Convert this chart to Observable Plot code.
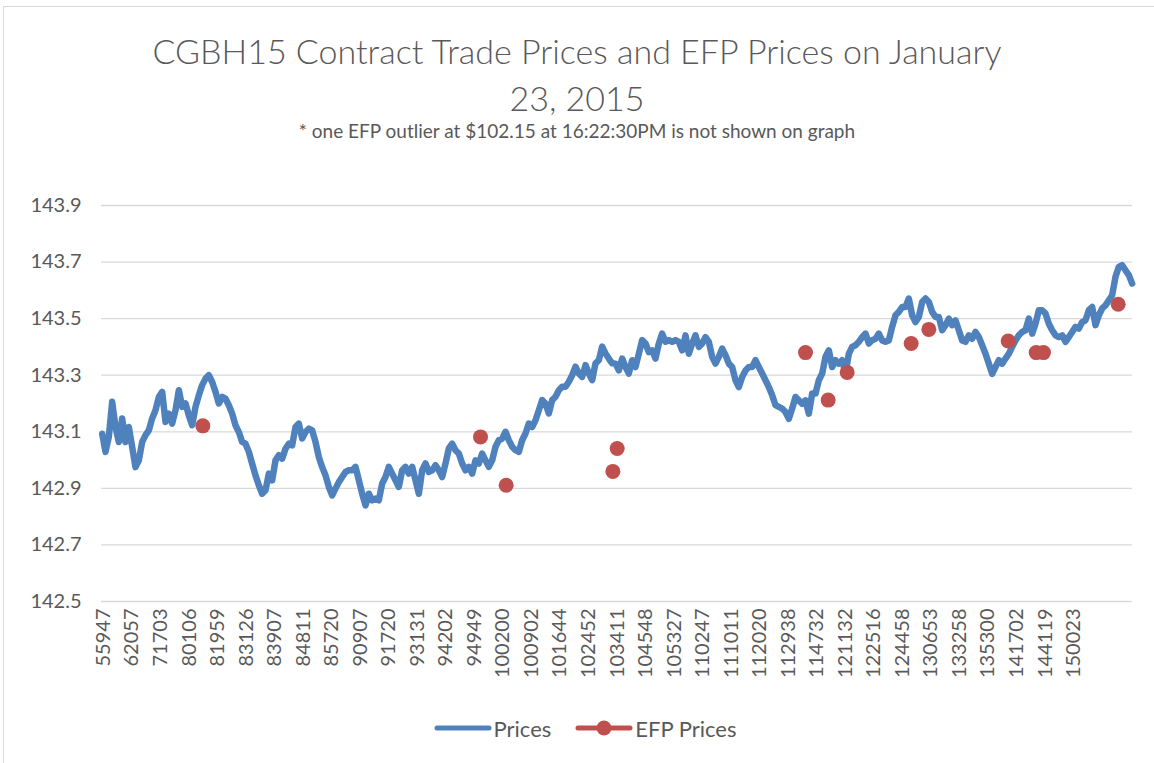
<!DOCTYPE html>
<html>
<head>
<meta charset="utf-8">
<script src="https://cdn.jsdelivr.net/npm/d3@7"></script>
<script src="https://cdn.jsdelivr.net/npm/@observablehq/plot@0.6"></script>
<style>
  html, body { margin: 0; padding: 0; background: #fff; }
  body { width: 1154px; height: 763px; overflow: hidden; position: relative; font-family: Lato, "Open Sans", sans-serif; color: #595959; }
  #frame { position: absolute; left: 3px; top: 6px; width: 1300px; height: 900px; border: 1px solid #d9d9d9; pointer-events: none; }
  #title { position: absolute; left: 0; width: 1154px; top: 27px; text-align: center; font-size: 34px; font-weight: 300; line-height: 47px; }
  #subtitle { position: absolute; left: 0; width: 1154px; top: 121px; text-align: center; font-size: 19px; line-height: 20px; }
  #chart { position: absolute; left: 0; top: 165px; }
  #legend { position: absolute; left: 8px; width: 1154px; top: 710px; height: 36px; display: flex; justify-content: center; align-items: center; font-size: 22px; }
  .item { display: flex; align-items: center; margin: 0 12px; }
  .item svg { margin-right: 2px; }
</style>
</head>
<body>
<div id="frame"></div>
<div id="title">CGBH15 Contract Trade Prices and EFP Prices on January<br>23, 2015</div>
<div id="subtitle">* one EFP outlier at $102.15 at 16:22:30PM is not shown on graph</div>
<div id="chart"></div>
<div id="legend"></div>
<script>
// Trade prices (sequential trades through the day)
const prices = [
  143.093,143.029,143.082,143.206,143.117,143.064,143.147,143.064,143.117,143.046,
  142.975,142.999,143.064,143.088,143.105,143.147,143.176,143.223,143.241,143.135,
  143.164,143.129,143.176,143.247,143.188,143.200,143.158,143.123,143.188,143.229,
  143.265,143.288,143.300,143.276,143.241,143.200,143.223,143.217,143.194,143.164,
  143.123,143.099,143.064,143.058,143.029,142.987,142.946,142.911,142.881,142.893,
  142.952,142.928,142.999,143.017,143.005,143.040,143.058,143.052,143.117,143.129,
  143.076,143.099,143.111,143.105,143.064,143.011,142.975,142.946,142.905,142.875,
  142.899,142.922,142.940,142.958,142.964,142.964,
  142.976,142.929,142.881,142.840,142.881,142.858,142.864,142.858,142.917,142.940,
  142.976,142.952,142.929,142.905,142.964,142.976,142.952,142.976,142.929,142.881,
  142.964,142.988,142.958,142.964,142.982,142.964,142.940,142.988,143.041,143.058,
  143.035,143.023,142.988,142.964,142.976,142.952,142.999,142.988,143.023,142.999,
  142.976,142.999,143.047,143.070,143.076,143.100,143.070,143.047,143.035,143.029,
  143.070,143.094,143.129,143.117,143.141,143.176,143.212,143.200,143.165,143.212,
  143.224,143.247,143.259,143.259,143.277,143.300,143.330,143.306,143.294,143.336,
  143.306,143.283,143.342,143.353,143.401,143.377,143.359,143.342,
  143.341,143.317,143.359,143.329,143.306,143.353,143.329,143.376,143.424,143.412,
  143.382,143.388,143.359,143.412,143.447,143.418,143.424,143.418,143.424,143.418,
  143.388,143.441,143.376,143.412,143.441,143.400,143.412,143.435,143.418,143.365,
  143.341,143.365,143.394,143.371,143.341,143.329,143.282,143.258,143.294,143.317,
  143.329,143.329,143.353,143.329,143.306,143.282,143.258,143.229,143.194,143.188,
  143.182,143.170,143.146,143.182,143.223,143.211,143.199,143.211,143.164,143.235,
  143.235,143.282,143.306,143.365,143.388,143.329,143.353,143.341,143.353,143.306,
  143.376,143.400,143.406,143.418,143.435,143.447,143.412,143.424,
  143.429,143.447,143.423,143.418,143.423,143.471,143.512,143.524,143.541,143.541,
  143.571,143.512,143.488,143.506,143.559,143.571,143.559,143.524,143.506,143.506,
  143.459,143.477,143.500,143.477,143.494,143.459,143.423,143.418,143.441,143.429,
  143.453,143.435,143.406,143.376,143.341,143.305,143.329,143.353,143.341,143.359,
  143.376,143.400,143.423,143.441,143.453,143.459,143.500,143.447,143.482,143.530,
  143.530,143.518,143.482,143.459,143.441,143.435,143.441,143.418,143.435,143.453,
  143.471,143.465,143.488,143.494,143.530,143.541,143.477,143.512,143.536,143.547,
  143.565,143.583,143.648,143.683,143.689,143.671,143.654,143.624
];

// EFP trades: trade sequence position and price
const efpTrade = [30.2, 113.5, 121.2, 153.2, 154.5, 211.0, 217.8, 223.5, 242.7, 248.0, 271.8, 280.2, 282.4, 304.8];
const efpPrice = [143.121, 143.082, 142.911, 142.960, 143.041, 143.380, 143.212, 143.310, 143.412, 143.462, 143.421, 143.380, 143.380, 143.551];

// Category tick labels (time of trade, HHMMSS)
const tickLabels = ["55947","62057","71703","80106","81959","83126","83907","84811","85720","90907",
  "91720","93131","94202","94949","100200","100902","101644","102452","103411","104548",
  "105327","110247","111011","112020","112938","114732","121132","122516","124458","130653",
  "133258","135300","141702","144119","150023"];
const yTicks = [142.5, 142.7, 142.9, 143.1, 143.3, 143.5, 143.7, 143.9];

const tradesPerLabel = 8.56, firstLabelTrade = 0.4;
const tickPos = tickLabels.map((_, k) => firstLabelTrade + k * tradesPerLabel);
const labelAt = new Map(tickPos.map((p, k) => [p, tickLabels[k]]));

const priceData = prices.map((p, i) => ({trade: i, price: p}));
const efpData = efpPrice.map((p, i) => ({trade: efpTrade[i], price: p}));

const BLUE = "#4F81BD", RED = "#C0504D";

const plot = Plot.plot({
  width: 1154,
  height: 540,
  marginTop: 40,
  marginBottom: 104,
  marginLeft: 101,
  marginRight: 22,
  style: {fontFamily: "Lato, 'Open Sans', sans-serif", fontSize: "20px", color: "#595959", background: "transparent"},
  x: {domain: [-0.2, 309.1], ticks: tickPos, tickFormat: d => labelAt.get(d), tickRotate: -90, tickSize: 0, tickPadding: 7, label: null},
  y: {domain: [142.5, 143.9], ticks: yTicks, tickFormat: d => d.toFixed(1), tickSize: 0, tickPadding: 20, label: null},
  marks: [
    Plot.ruleY(yTicks, {stroke: "#d9d9d9", strokeWidth: 1.3}),
    Plot.line(priceData, {x: "trade", y: "price", stroke: BLUE, strokeWidth: 6.5, strokeLinejoin: "round", strokeLinecap: "round"}),
    Plot.dot(efpData, {x: "trade", y: "price", r: 7.5, fill: RED, stroke: "none"})
  ]
});
document.getElementById("chart").appendChild(plot);

const legend = document.getElementById("legend");
legend.innerHTML = `
  <div class="item"><svg width="58" height="12"><line x1="3" y1="6" x2="55" y2="6" stroke="${BLUE}" stroke-width="5" stroke-linecap="round"/></svg><span>Prices</span></div>
  <div class="item"><svg width="58" height="18"><line x1="3" y1="9" x2="55" y2="9" stroke="${RED}" stroke-width="5" stroke-linecap="round"/><circle cx="29" cy="9" r="7.5" fill="${RED}"/></svg><span>EFP Prices</span></div>`;
</script>
</body>
</html>
